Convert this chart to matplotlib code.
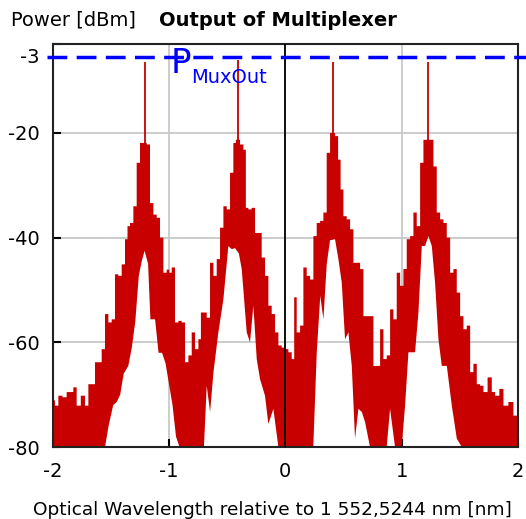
import numpy as np
import matplotlib
matplotlib.use("Agg")
import matplotlib.pyplot as plt
from matplotlib.transforms import ScaledTranslation

plt.rcParams['font.family'] = ['DejaVu Sans']
plt.rcParams['axes.unicode_minus'] = False

# ---- data ----
# upper edge of the noisy spectrum [nm, dBm]
x_upper = [-2.000, -1.995, -1.966, -1.937, -1.894, -1.866, -1.837, -1.808, -1.780, -1.737,
           -1.708, -1.679, -1.651, -1.622, -1.593, -1.565, -1.536, -1.507, -1.479, -1.450,
           -1.421, -1.393, -1.364, -1.350, -1.321, -1.292, -1.264, -1.235, -1.206, -1.178,
           -1.149, -1.120, -1.092, -1.063, -1.034, -1.006, -0.991, -0.963, -0.934, -0.905,
           -0.877, -0.848, -0.819, -0.791, -0.762, -0.733, -0.719, -0.690, -0.662, -0.633,
           -0.604, -0.576, -0.547, -0.518, -0.490, -0.461, -0.433, -0.418, -0.404, -0.375,
           -0.347, -0.332, -0.304, -0.275, -0.246, -0.218, -0.189, -0.160, -0.132, -0.103,
           -0.074, -0.046, -0.017, 0.012, 0.040, 0.069, 0.083, 0.112, 0.141, 0.169,
           0.198, 0.227, 0.255, 0.284, 0.313, 0.341, 0.370, 0.399, 0.413, 0.442,
           0.465, 0.485, 0.513, 0.542, 0.571, 0.599, 0.628, 0.657, 0.685, 0.714,
           0.743, 0.771, 0.800, 0.829, 0.857, 0.886, 0.915, 0.943, 0.972, 1.001,
           1.029, 1.058, 1.087, 1.115, 1.144, 1.173, 1.201, 1.230, 1.259, 1.287,
           1.316, 1.345, 1.373, 1.402, 1.431, 1.459, 1.488, 1.517, 1.545, 1.574,
           1.603, 1.631, 1.660, 1.689, 1.717, 1.760, 1.789, 1.818, 1.861, 1.889,
           1.946, 1.975, 2.000]
y_upper = [-71.1, -71.1, -72.1, -70.2, -70.5, -69.5, -69.5, -68.6, -72.1, -70.2,
           -72.1, -68.0, -68.0, -63.8, -63.8, -61.3, -54.6, -56.2, -55.6, -47.0,
           -47.3, -45.1, -40.3, -37.8, -37.2, -34.0, -25.7, -21.9, -21.9, -22.2,
           -33.4, -35.6, -36.2, -40.0, -46.7, -46.1, -46.7, -45.7, -56.2, -55.9,
           -56.2, -63.8, -62.5, -58.1, -61.3, -59.4, -54.3, -54.3, -55.3, -44.8,
           -47.3, -44.1, -38.1, -34.0, -34.6, -27.6, -21.9, -21.3, -21.3, -22.2,
           -23.2, -34.3, -34.6, -34.3, -39.1, -39.1, -43.8, -47.3, -53.0, -54.6,
           -58.1, -60.6, -61.0, -61.3, -61.9, -63.2, -51.4, -58.1, -56.8, -45.7,
           -47.3, -48.0, -39.7, -37.2, -36.8, -35.2, -23.8, -20.0, -20.0, -20.6,
           -25.1, -30.8, -35.9, -36.5, -38.4, -44.8, -44.8, -46.0, -55.0, -55.0,
           -55.0, -64.5, -64.5, -57.5, -63.2, -62.5, -53.7, -55.6, -46.7, -49.2,
           -46.0, -40.3, -39.7, -35.2, -37.8, -25.7, -21.3, -21.3, -21.3, -26.4,
           -35.2, -36.5, -37.2, -40.0, -46.7, -46.0, -50.5, -55.0, -57.5, -56.8,
           -65.7, -64.1, -68.0, -68.3, -69.5, -66.7, -69.5, -70.2, -68.9, -72.1,
           -71.4, -74.0, -74.0]

# lower edge of the noisy spectrum [nm, dBm]
x_lower = [-2.0, -1.55, -1.52, -1.48, -1.45, -1.42, -1.39, -1.35, -1.32, -1.29,
           -1.26, -1.235, -1.21, -1.18, -1.16, -1.12, -1.09, -1.06, -1.03, -1.0,
           -0.97, -0.94, -0.91, -0.70, -0.676, -0.647, -0.618, -0.576, -0.533, -0.49,
           -0.461, -0.433, -0.40, -0.375, -0.332, -0.304, -0.275, -0.246, -0.218, -0.175,
           -0.146, -0.103, -0.06, 0.24, 0.27, 0.30, 0.327, 0.356, 0.384, 0.427,
           0.456, 0.485, 0.513, 0.542, 0.571, 0.599, 0.628, 0.657, 0.685, 0.728,
           0.871, 0.90, 0.943, 1.0, 1.029, 1.058, 1.115, 1.144, 1.173, 1.201,
           1.23, 1.259, 1.287, 1.316, 1.345, 1.388, 1.431, 1.474, 1.517, 2.0]
y_lower = [-80, -80, -76, -72, -71.4, -70, -66, -64.5, -61, -56,
           -47.3, -44.5, -42.5, -45, -55.6, -55.6, -62, -62, -64, -68,
           -72, -78, -80, -80, -68.3, -73.3, -65.7, -58.1, -51.8, -41.6,
           -42.2, -42.0, -43.0, -46.0, -58.1, -60.0, -53.0, -63.2, -67.0, -70.2,
           -75.6, -72.7, -80, -80, -61.9, -51.1, -55.6, -45.0, -40.5, -40.3,
           -44.1, -48.6, -59.4, -58.1, -64.5, -78.4, -72.7, -73.3, -75.2, -80,
           -80, -72.7, -80, -80, -72.1, -61.9, -61.9, -54.3, -41.6, -41.6,
           -39.7, -41.6, -48.6, -59.4, -64.5, -64.5, -72.1, -78.4, -80, -80]

# carrier lines
carrier_x = [-1.206, -0.404, 0.413, 1.230]
carrier_top = [-6.4, -6.0, -6.4, -6.4]
carrier_base = [-22.0, -21.5, -20.5, -21.5]

p_muxout = -5.5          # dashed reference level (dBm, plotted position)
x_ticks = [-2, -1, 0, 1, 2]
y_ticks = [-80, -60, -40, -20, -3]
y_ticklabels = ['-80', '-60', '-40', '-20', '-3']

RED = '#c80000'
BLUE = '#0000ff'

def step_outline(x, y):
    x = np.asarray(x, float)
    y = np.asarray(y, float)
    edges = np.concatenate([[x[0]], (x[:-1] + x[1:]) / 2, [x[-1]]])
    xs = np.repeat(edges, 2)[1:-1]
    ys = np.repeat(y, 2)
    return xs, ys

fig = plt.figure(figsize=(5.26, 5.19), dpi=100)
ax = fig.add_axes([0.1002, 0.1387, 0.8846, 0.7765])
ax.set_xlim(-2, 2)
ax.set_ylim(-80, -3)

ax.grid(True, color='#c8c8c8', lw=1.3, zorder=0)
ax.set_axisbelow(True)

ux, uy = step_outline(x_upper, y_upper)
px = np.concatenate([ux, np.asarray(x_lower, float)[::-1]])
py = np.concatenate([uy, np.asarray(y_lower, float)[::-1]])
ax.fill(px, py, color=RED, lw=0, zorder=2)
ax.vlines(carrier_x, carrier_base, carrier_top, color=RED, lw=1.3, zorder=2)

ax.axvline(0, color='black', lw=1.3, zorder=3)

ax.plot([-2.052, 2.1], [p_muxout, p_muxout], color=BLUE, lw=2.5,
        dashes=(5.7, 2.7), clip_on=False, zorder=5)
ax.text(-0.989, -8.5, 'P', color=BLUE, fontsize=24.5, va='baseline', ha='left', zorder=6)
ax.text(-0.812, -10.4, 'MuxOut', color=BLUE, fontsize=14, va='baseline', ha='left', zorder=6)

ax.set_xticks(x_ticks)
ax.set_xticklabels([str(v) for v in x_ticks])
ax.set_yticks(y_ticks)
ax.set_yticklabels(y_ticklabels)
ax.tick_params(axis='both', direction='in', length=6, width=1.5, colors='black',
               labelsize=14)
ax.tick_params(axis='y', pad=9.5)
ax.tick_params(axis='x', pad=11)
top_lab = ax.get_yticklabels()[-1]
top_lab.set_verticalalignment('top')
top_lab.set_transform(top_lab.get_transform() + ScaledTranslation(0, -3 / 72, fig.dpi_scale_trans))

for s in ax.spines.values():
    s.set_color('#222222')
    s.set_linewidth(1.5)

ax.set_xlabel('Optical Wavelength relative to 1 552,5244 nm [nm]', fontsize=13.3)
ax.xaxis.set_label_coords(0.473, -0.135)

fig.text(11.4 / 526, 1 - 26 / 519, 'Power [dBm]', fontsize=14, va='baseline', ha='left')
fig.text(159 / 526, 1 - 26 / 519, 'Output of Multiplexer', fontsize=14, weight='bold',
         va='baseline', ha='left')

fig.savefig('out.png', dpi=100)
